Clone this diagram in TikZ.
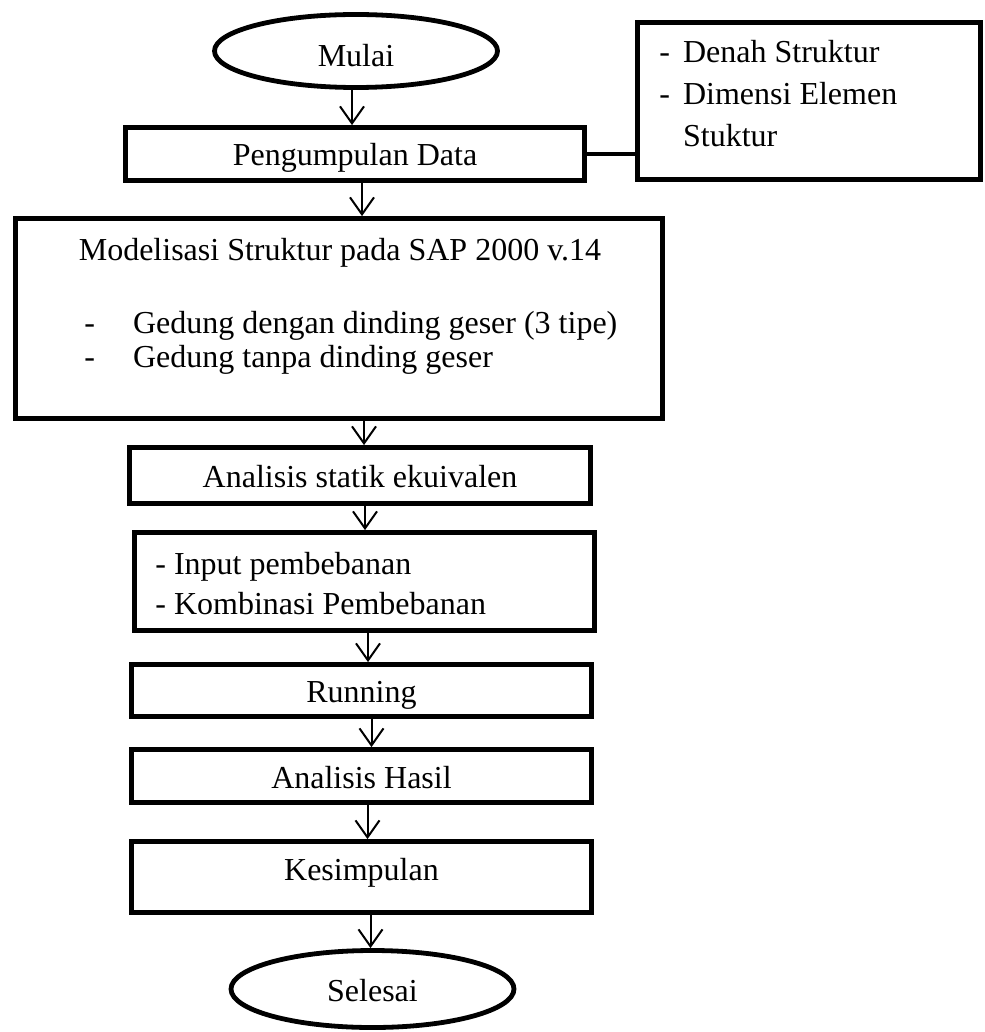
\documentclass[tikz,border=0pt]{standalone}
\usepackage{fontspec}
\setmainfont{Liberation Serif}
\usetikzlibrary{shapes.geometric, arrows.meta}

\begin{document}
\begin{tikzpicture}[x=0.5pt, y=-0.5pt,
		>={Straight Barb[length=8.5pt,width=12pt]},
		every node/.style={font=\fontsize{16}{21}\selectfont},
		box/.style={draw, line width=2.4pt, inner sep=0pt, minimum width=230pt, minimum height=26.5pt, text height=13pt, text depth=1pt},
		term/.style={draw, ellipse, line width=2.4pt, inner sep=0pt, minimum width=141.5pt, minimum height=36.5pt, text height=16pt, text depth=0pt},
		txt/.style={inner sep=0pt},
		flow/.style={->, line width=1pt}]
		\useasboundingbox (0,0) rectangle (984,1032);
		
		\node[term] (mulai) at (356,51) {Mulai};
		\node[box, minimum width=229.5pt] (pd) at (355,154) {Pengumpulan Data};
		\node[box, minimum width=171.5pt, minimum height=78.5pt] (note) at (809,101) {};
		\node[txt, anchor=base west] (notetxt) at (659,63) {\begin{tabular}[t]{@{}l@{\hspace{6.5pt}}l@{}}- & Denah Struktur\\- & Dimensi Elemen\\ & Stuktur\end{tabular}};
		
		\node[box, minimum width=323.5pt, minimum height=100pt] (model) at (339,318.5) {};
		\node[txt, anchor=base] (modtitle) at (340,260) {Modelisasi Struktur pada SAP 2000 v.14};
		\node[txt, anchor=base west, font=\fontsize{16}{17}\selectfont] (modlist) at (84,333) {\begin{tabular}[t]{@{}l@{\hspace{19pt}}l@{}}- & Gedung dengan dinding geser (3 tipe)\\- & Gedung tanpa dinding geser\end{tabular}};
		
		\node[box, minimum width=230.5pt, minimum height=28pt] (statik) at (360,475.5) {Analisis statik ekuivalen};
		\node[box, minimum height=49pt] (beban) at (364.5,581.5) {};
		\node[txt, anchor=base west, font=\fontsize{16}{20}\selectfont] (bebantxt) at (155,574) {\begin{tabular}[t]{@{}l@{}}- Input pembebanan\\- Kombinasi Pembebanan\end{tabular}};
		\node[box, minimum height=26pt] (run) at (361.5,690.5) {Running};
		\node[box] (hasil) at (361.5,776) {Analisis Hasil};
		\node[box, minimum height=35.5pt, text height=8pt, text depth=5pt] (kes) at (361.5,877) {Kesimpulan};
		\node[term, minimum height=38.5pt, text height=13pt, text depth=1pt] (selesai) at (372.5,989) {Selesai};
		
		\draw[flow] ([xshift=-2pt]mulai.south) -- ([xshift=-2pt]mulai.south |- pd.north);
		\draw[flow] ([xshift=3.5pt]pd.south) -- ([xshift=3.5pt]pd.south |- model.north);
		\draw[flow] ([xshift=12.5pt]model.south) -- ([xshift=12.5pt]model.south |- statik.north);
		\draw[flow] ([xshift=2.5pt]statik.south) -- ([xshift=2.5pt]statik.south |- beban.north);
		\draw[flow] ([xshift=1.75pt]beban.south) -- ([xshift=1.75pt]beban.south |- run.north);
		\draw[flow] ([xshift=5pt]run.south) -- ([xshift=5pt]run.south |- hasil.north);
		\draw[flow] ([xshift=3pt]hasil.south) -- ([xshift=3pt]hasil.south |- kes.north);
		\draw[flow] ([xshift=4.5pt]kes.south) -- ([xshift=4.5pt]kes.south |- selesai.north);
		\draw[line width=2pt] (pd.east) -- (pd.east -| note.west);
		
\end{tikzpicture}
\end{document}
